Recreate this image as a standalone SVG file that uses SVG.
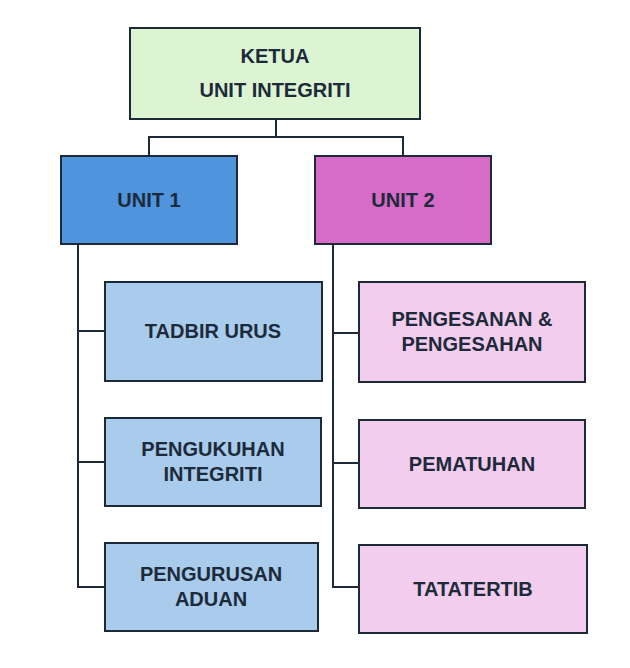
<svg xmlns="http://www.w3.org/2000/svg" width="630" height="668" viewBox="0 0 630 668">
<style>
.b{stroke:#1c2a38;stroke-width:2}
.t{font-family:"Liberation Sans",Arial,sans-serif;font-weight:bold;font-size:20px;fill:#1c2a3a;text-anchor:middle}
.c{fill:none;stroke:#1c2a38;stroke-width:2}
</style>
<rect width="630" height="668" fill="#fff"/>
<g id="connectors">
<path class="c" d="M276 119V137M149 156V137H403V156"/>
<path class="c" d="M78 244V587H105M78 331H105M78 462H105"/>
<path class="c" d="M333 244V587H359M333 333H359M333 463H359"/>
</g>
<g id="ketua"><rect class="b" x="130" y="28" width="290" height="91" fill="#dcf4d2"/><text class="t" x="275" y="63">KETUA</text><text class="t" x="275" y="97">UNIT INTEGRITI</text></g>
<g id="unit1"><rect class="b" x="61" y="156" width="176" height="88" fill="#4f94dc"/><text class="t" x="149" y="207">UNIT 1</text></g>
<g id="unit2"><rect class="b" x="315" y="156" width="176" height="88" fill="#d66cc8"/><text class="t" x="403" y="207">UNIT 2</text></g>
<g id="tadbir"><rect class="b" x="105" y="282" width="217" height="99" fill="#a9cbec"/><text class="t" x="213" y="338">TADBIR URUS</text></g>
<g id="pengukuhan"><rect class="b" x="105" y="418" width="216" height="88" fill="#a9cbec"/><text class="t" x="213" y="456">PENGUKUHAN</text><text class="t" x="213" y="481">INTEGRITI</text></g>
<g id="pengurusan"><rect class="b" x="105" y="543" width="213" height="88" fill="#a9cbec"/><text class="t" x="211" y="581">PENGURUSAN</text><text class="t" x="211" y="606">ADUAN</text></g>
<g id="pengesanan"><rect class="b" x="359" y="282" width="226" height="100" fill="#f2cdee"/><text class="t" x="472" y="326">PENGESANAN &amp;</text><text class="t" x="472" y="351">PENGESAHAN</text></g>
<g id="pematuhan"><rect class="b" x="359" y="420" width="226" height="88" fill="#f2cdee"/><text class="t" x="472" y="471">PEMATUHAN</text></g>
<g id="tatatertib"><rect class="b" x="359" y="545" width="228" height="88" fill="#f2cdee"/><text class="t" x="473" y="596">TATATERTIB</text></g>
</svg>
